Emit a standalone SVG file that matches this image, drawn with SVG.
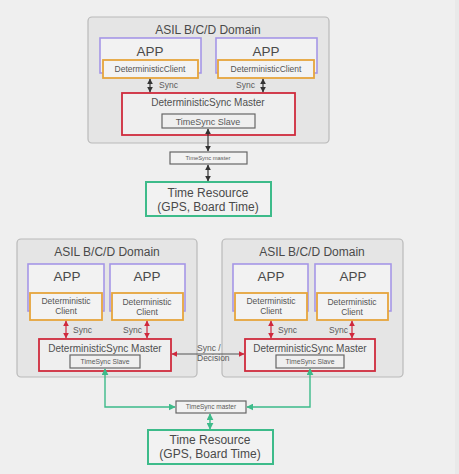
<svg xmlns="http://www.w3.org/2000/svg" width="459" height="474" viewBox="0 0 459 474">
<defs>
<style>
text{font-family:"Liberation Sans",Arial,sans-serif;fill:#4a4a4a;text-anchor:middle}
.domain{fill:#e5e5e5;stroke:#b9b9b9;stroke-width:1.2}
.app{fill:#f2f2f2;stroke:#a596e6;stroke-width:1.6}
.client{fill:#f3f3f3;stroke:#e6a53c;stroke-width:1.8}
.master{fill:#efefef;stroke:#cf2b3c;stroke-width:1.8}
.slave{fill:#efefef;stroke:#666;stroke-width:1.2}
.tsm{fill:#f2f2f2;stroke:#666;stroke-width:1.2}
.res{fill:#f2f2f2;stroke:#3dbb8a;stroke-width:2}
.t12{font-size:12px}
.tapp{font-size:13.5px}
.tcl{font-size:8.5px;fill:#555}
.tm{font-size:10px;fill:#505050}
.ts{font-size:8.5px;fill:#5a5a5a}
.tsmall{fill:#5a5a5a}
.dark{stroke:#333;stroke-width:1.2;fill:none;marker-start:url(#ad);marker-end:url(#ad)}
.red{stroke:#d0283c;stroke-width:1.2;fill:none;marker-start:url(#ar);marker-end:url(#ar)}
.mid{stroke:#555;stroke-width:1.2;fill:none;marker-start:url(#ar);marker-end:url(#ar)}
.green{stroke:#3dbb8a;stroke-width:1.4;fill:none;marker-start:url(#ag);marker-end:url(#ag)}
</style>
<marker id="ad" viewBox="0 0 10 10" refX="9" refY="5" markerWidth="5" markerHeight="5" orient="auto-start-reverse"><path d="M0,0 L10,5 L0,10 z" fill="#333"/></marker>
<marker id="ar" viewBox="0 0 10 10" refX="9" refY="5" markerWidth="5" markerHeight="5" orient="auto-start-reverse"><path d="M0,0 L10,5 L0,10 z" fill="#d0283c"/></marker>
<marker id="ag" viewBox="0 0 10 10" refX="9" refY="5" markerWidth="5" markerHeight="5" orient="auto-start-reverse"><path d="M0,0 L10,5 L0,10 z" fill="#3dbb8a"/></marker>
</defs>
<rect x="0" y="0" width="459" height="474" fill="#efefef"/>
<rect x="455" y="0" width="4" height="474" fill="#e9e9e9"/>

<!-- Top diagram -->
<g id="top-domain">
<rect class="domain" x="88" y="17" width="241" height="126" rx="4"/>
<text class="t12" x="208" y="34">ASIL B/C/D Domain</text>
</g>
<g id="top-app1">
<rect class="app" x="100" y="38" width="101" height="35"/>
<text class="tapp" x="150" y="56">APP</text>
</g>
<g id="top-client1">
<rect class="client" x="103" y="60" width="95" height="18"/>
<text class="tcl" x="150" y="72">DeterministicClient</text>
</g>
<g id="top-app2">
<rect class="app" x="216" y="38" width="101" height="35"/>
<text class="tapp" x="266" y="56">APP</text>
</g>
<g id="top-client2">
<rect class="client" x="218" y="60" width="96" height="18"/>
<text class="tcl" x="266" y="72">DeterministicClient</text>
</g>
<g id="top-master">
<rect class="master" x="122" y="93" width="173" height="42"/>
<text class="tm" x="208" y="106">DeterministicSync Master</text>
</g>
<g id="top-slave">
<rect class="slave" x="162" y="114" width="93" height="14"/>
<text class="tsmall" style="font-size:9px" x="208" y="124.5">TimeSync Slave</text>
</g>
<g id="top-tsm">
<rect class="tsm" x="170" y="152" width="77" height="12"/>
<text class="tsmall" style="font-size:5.8px" x="208" y="160">TimeSync master</text>
</g>
<g id="top-resource">
<rect class="res" x="146" y="182" width="125" height="34"/>
<text class="t12" x="208" y="197">Time Resource</text>
<text class="t12" x="208" y="211">(GPS, Board Time)</text>
</g>

<!-- Bottom diagram -->
<g id="bl-domain">
<rect class="domain" x="17" y="239" width="180" height="138" rx="4"/>
<text class="t12" x="107" y="256">ASIL B/C/D Domain</text>
</g>
<g id="bl-app1">
<rect class="app" x="28" y="264" width="76" height="47"/>
<text class="tapp" x="67" y="281">APP</text>
</g>
<g id="bl-client1">
<rect class="client" x="30" y="293" width="72" height="27"/>
<text class="tcl" x="66" y="304">Deterministic</text>
<text class="tcl" x="66" y="314">Client</text>
</g>
<g id="bl-app2">
<rect class="app" x="110" y="264" width="75" height="47"/>
<text class="tapp" x="147" y="281">APP</text>
</g>
<g id="bl-client2">
<rect class="client" x="112" y="293" width="71" height="27"/>
<text class="tcl" x="147" y="305">Deterministic</text>
<text class="tcl" x="147" y="315">Client</text>
</g>
<g id="bl-master">
<rect class="master" x="39" y="339" width="132" height="32"/>
<text class="tm" x="105" y="352">DeterministicSync Master</text>
</g>
<g id="bl-slave">
<rect class="slave" x="70" y="355" width="70" height="13"/>
<text class="tsmall" style="font-size:6.8px" x="105" y="364">TimeSync Slave</text>
</g>

<g id="br-domain">
<rect class="domain" x="222" y="239" width="181" height="138" rx="4"/>
<text class="t12" x="312" y="256">ASIL B/C/D Domain</text>
</g>
<g id="br-app1">
<rect class="app" x="233" y="264" width="75" height="47"/>
<text class="tapp" x="271" y="281">APP</text>
</g>
<g id="br-client1">
<rect class="client" x="235" y="293" width="72" height="27"/>
<text class="tcl" x="271" y="304">Deterministic</text>
<text class="tcl" x="271" y="314">Client</text>
</g>
<g id="br-app2">
<rect class="app" x="315" y="264" width="76" height="47"/>
<text class="tapp" x="353" y="281">APP</text>
</g>
<g id="br-client2">
<rect class="client" x="317" y="293" width="71" height="27"/>
<text class="tcl" x="352" y="305">Deterministic</text>
<text class="tcl" x="352" y="315">Client</text>
</g>
<g id="br-master">
<rect class="master" x="245" y="339" width="130" height="32"/>
<text class="tm" x="310" y="352">DeterministicSync Master</text>
</g>
<g id="br-slave">
<rect class="slave" x="276" y="355" width="68" height="13"/>
<text class="tsmall" style="font-size:6.8px" x="310" y="364">TimeSync Slave</text>
</g>

<g id="b-tsm">
<rect class="tsm" x="176" y="401" width="70" height="12"/>
<text class="tsmall" style="font-size:6.5px" x="211" y="409">TimeSync master</text>
</g>
<g id="b-resource">
<rect class="res" x="148" y="430" width="125" height="34"/>
<text class="t12" x="210" y="444">Time Resource</text>
<text class="t12" x="210" y="458">(GPS, Board Time)</text>
</g>

<!-- Connectors -->
<g id="connectors">
<line class="dark" x1="150" y1="79" x2="150" y2="92"/>
<line class="dark" x1="263" y1="79" x2="263" y2="92"/>
<line class="dark" x1="208" y1="129" x2="208" y2="151"/>
<line class="dark" x1="208" y1="165" x2="208" y2="181"/>
<text class="ts" x="159" y="88" style="text-anchor:start">Sync</text>
<text class="ts" x="255" y="88" style="text-anchor:end">Sync</text>

<line class="red" x1="66" y1="321" x2="66" y2="338"/>
<line class="red" x1="147" y1="321" x2="147" y2="338"/>
<line class="red" x1="271" y1="321" x2="271" y2="338"/>
<line class="red" x1="352" y1="321" x2="352" y2="338"/>
<text class="ts" x="73" y="333" style="text-anchor:start">Sync</text>
<text class="ts" x="142" y="333" style="text-anchor:end">Sync</text>
<text class="ts" x="278" y="333" style="text-anchor:start">Sync</text>
<text class="ts" x="348" y="333" style="text-anchor:end">Sync</text>

<line class="mid" x1="172" y1="354" x2="244" y2="354"/>
<text class="ts" x="197" y="351" style="text-anchor:start">Sync /</text>
<text class="ts" x="197" y="361" style="text-anchor:start">Decision</text>

<path class="green" d="M105,369 L105,407 L175,407"/>
<path class="green" d="M310,369 L310,407 L247,407"/>
<line class="green" x1="210" y1="414" x2="210" y2="429"/>
</g>
</svg>
